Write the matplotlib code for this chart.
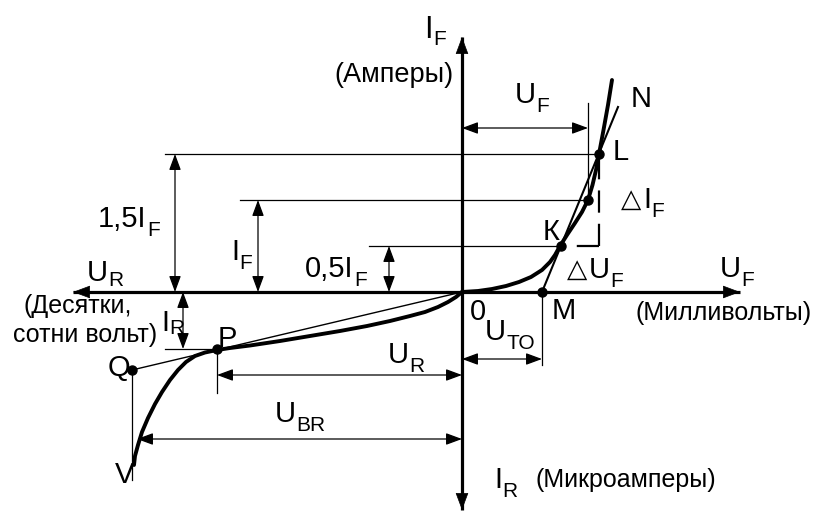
import matplotlib
matplotlib.use("Agg")
import matplotlib.pyplot as plt

plt.rcParams['font.family'] = ['Liberation Sans', 'DejaVu Sans']

# drawing units: 1 unit = 1 px, origin of the characteristic at (462, 292), y grows downward
origin = (462, 292)

# forward branch (milliamps / millivolts side), from the origin up to the top
fwd_x = [462, 478, 492, 506, 519, 531, 542, 550, 555, 560, 567, 575, 582, 588,
         592.5, 596, 599, 603.5, 608, 612]
fwd_y = [292, 291, 289, 286, 282, 277, 270, 262, 255, 246, 235, 223, 212, 200,
         185, 170, 154, 130, 105, 80]

# reverse branch, from the origin down to the breakdown point V
rev_x = [462, 456, 448, 438, 425, 410, 390, 367, 340, 310, 280, 250, 230, 217,
         205, 195, 186, 178, 170, 162, 155, 148, 142, 138, 135, 134]
rev_y = [292, 297, 302, 307, 312, 316, 321, 326, 331, 336, 341, 345.5, 348, 350,
         352.5, 356, 362, 370, 380, 392, 404, 418, 432, 445, 456, 465]

# marked points
pt_M = (542, 292)
pt_K = (561, 246)
pt_I = (588, 200)
pt_L = (599, 154)
pt_N = (618, 107)
pt_P = (217, 349)
pt_Q = (132, 370)

# current levels 0.5 I_F, I_F, 1.5 I_F
lvl_y = [246, 200, 154]
lvl_x0 = [369, 240, 165]
lvl_x1 = [pt_K[0], pt_I[0], pt_L[0]]
lvl_arrow_x = [389, 258, 175]

fig = plt.figure(figsize=(8.13, 5.13), dpi=100)
ax = fig.add_axes([0, 0, 1, 1])
ax.set_xlim(0, 813)
ax.set_ylim(513, 0)
ax.axis('off')
renderer = fig.canvas.get_renderer()

THIN = 0.9


def dim_arrow(p0, p1, lw=THIN):
    ax.annotate('', xy=p1, xytext=p0,
                arrowprops=dict(arrowstyle='<|-|>,head_length=0.65,head_width=0.24',
                                mutation_scale=15, lw=lw, color='black',
                                shrinkA=0, shrinkB=0))


def axis_arrow(p0, p1):
    ax.plot([p0[0], p1[0]], [p0[1], p1[1]], color='black', lw=2.3, solid_capstyle='butt')
    ax.annotate('', xy=p1, xytext=p0,
                arrowprops=dict(arrowstyle='<|-|>,head_length=0.75,head_width=0.28',
                                mutation_scale=15, lw=0.5, color='black',
                                shrinkA=0, shrinkB=0))


def label(x, y, main, sub='', size=21, sub_size=15, drop=9, delta=False):
    if delta:
        ax.text(x, y - 1, '\u25b3', fontsize=19, ha='left', va='baseline',
                family=['DejaVu Sans'])
        x += 22
    t = ax.text(x, y, main, fontsize=size, ha='left', va='baseline')
    if sub:
        w = t.get_window_extent(renderer).width
        ax.text(x + w + 0.5, y + drop, sub, fontsize=sub_size, ha='left', va='baseline')


# axes
axis_arrow((73, origin[1]), (740, origin[1]))
axis_arrow((origin[0], 510), (origin[0], 37))

# level lines and their dimension arrows
for y, x0, x1, xa in zip(lvl_y, lvl_x0, lvl_x1, lvl_arrow_x):
    ax.plot([x0, x1], [y, y], color='black', lw=THIN)
    dim_arrow((xa, origin[1]), (xa, y))

# reverse current level at P
ax.plot([165, pt_P[0]], [pt_P[1], pt_P[1]], color='black', lw=THIN)
dim_arrow((183, origin[1]), (183, pt_P[1]))

# extension lines
ax.plot([pt_I[0], pt_I[0]], [103, pt_I[1]], color='black', lw=THIN)
ax.plot([pt_M[0], pt_M[0]], [pt_M[1], 365], color='black', lw=THIN)
ax.plot([pt_P[0], pt_P[0]], [pt_P[1], 393], color='black', lw=THIN)
ax.plot([pt_Q[0], pt_Q[0]], [pt_Q[1], 480], color='black', lw=THIN)

# voltage dimensions
dim_arrow((origin[0], 128), (pt_I[0], 128))
dim_arrow((origin[0], 359), (pt_M[0], 359))
dim_arrow((origin[0], 375), (pt_P[0], 375))
dim_arrow((origin[0], 439), (137, 439))

# differential resistance construction
ax.plot([pt_M[0], pt_N[0]], [pt_M[1], pt_N[1]], color='black', lw=1.5)
ax.plot([pt_L[0], pt_L[0]], [pt_K[1], pt_L[1]], color='black', lw=1.6,
        linestyle=(0, (10, 5)))
ax.plot([pt_L[0], pt_K[0]], [pt_K[1], pt_K[1]], color='black', lw=1.6,
        linestyle=(0, (10, 5)))
ax.plot([pt_Q[0], origin[0]], [pt_Q[1], origin[1]], color='black', lw=1.0)

# characteristic
ax.plot(fwd_x, fwd_y, color='black', lw=2.8, solid_joinstyle='round', solid_capstyle='round')
ax.plot(rev_x, rev_y, color='black', lw=2.8, solid_joinstyle='round', solid_capstyle='round')

for p in [pt_M, pt_K, pt_I, pt_L, pt_P, pt_Q]:
    ax.plot(p[0], p[1], 'o', color='black', ms=6.5)

# labels
label(424, 38, 'I', 'F', size=22, drop=7)
ax.text(453, 82, '(Амперы)', fontsize=19.5, ha='right', va='baseline')
label(515, 103, 'U', 'F')
label(631, 107, 'N')
label(613, 160, 'L')
label(621, 208, 'I', 'F', delta=True)
label(567, 278, 'U', 'F', delta=True)
label(543, 240, 'К')
label(720, 277, 'U', 'F')
ax.text(635, 320, '(Милливольты)', fontsize=18, ha='left', va='baseline')
label(552, 319, 'M')
label(470, 320, '0')
label(485, 340, 'U', 'TO')
label(388, 363, 'U', 'R')
label(275, 422, 'U', 'BR')
label(115, 483, 'V')
label(108, 376, 'Q')
label(218, 347, 'P')
label(161, 331, 'I', 'R', drop=3)
ax.text(23, 313, '(Десятки,', fontsize=18, ha='left', va='baseline')
ax.text(13, 342, 'сотни вольт)', fontsize=18, ha='left', va='baseline')
label(87, 281, 'U', 'R', drop=5)
label(98, 227, '1,5I', 'F')
label(231, 260, 'I', 'F')
label(305, 277, '0,5I', 'F')
label(494, 488, 'I', 'R')
ax.text(535, 487, '(Микроамперы)', fontsize=18, ha='left', va='baseline')

fig.savefig('out.png', dpi=100)
